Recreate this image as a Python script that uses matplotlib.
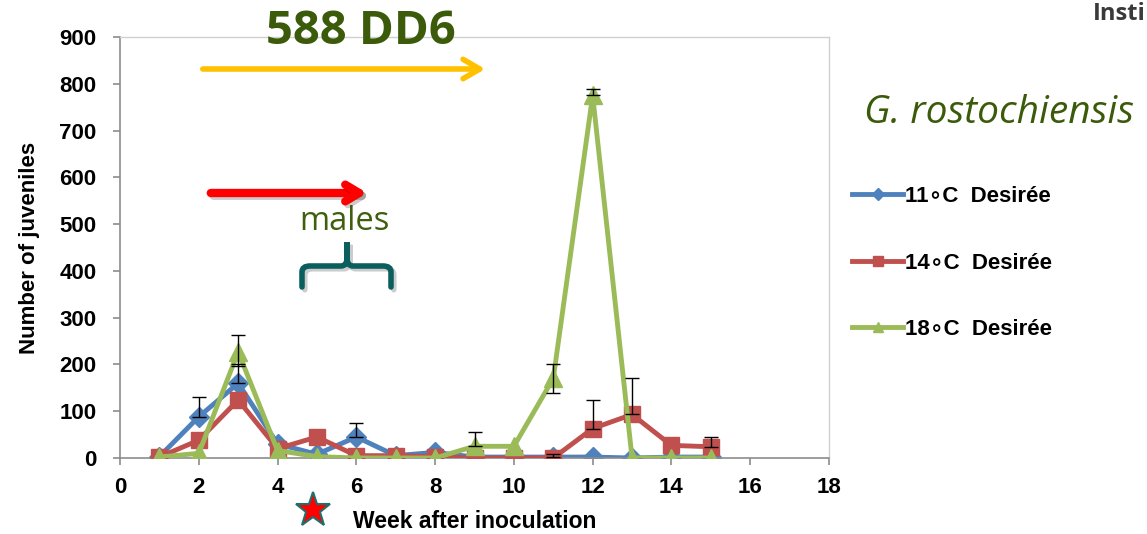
import numpy as np
import matplotlib.pyplot as plt
from matplotlib.patches import FancyArrowPatch, PathPatch
from matplotlib.path import Path
import matplotlib.patheffects as pe

W, H = 1147, 534

# juveniles per week after inoculation, G. rostochiensis on Desiree
weeks = np.arange(1, 16)
juv_11c = [3, 88, 160, 30, 8, 45, 5, 12, 2, 2, 2, 2, 0, 2, 2]
juv_14c = [2, 38, 124, 20, 45, 5, 5, 3, 0, 0, 0, 63, 93, 27, 24]
juv_18c = [2, 10, 227, 16, 3, 0, 0, 0, 25, 25, 170, 775, 0, 0, 0]

err_11c_up = [0, 42, 40, 0, 0, 30, 0, 0, 0, 0, 6, 0, 0, 0, 0]
err_14c_up = [0, 0, 0, 0, 0, 0, 0, 0, 0, 0, 0, 61, 79, 0, 21]
err_18c_up = [0, 0, 37, 0, 0, 0, 0, 0, 31, 0, 30, 13, 0, 0, 0]
err_18c_low = [0, 0, 30, 0, 0, 0, 0, 0, 0, 0, 30, 0, 0, 0, 0]

labels = ["11\u2218C  Desirée", "14\u2218C  Desirée", "18\u2218C  Desirée"]
colors = ["#4F81BD", "#C0504D", "#9BBB59"]
markers = ["D", "s", "^"]
msizes = [10, 11.5, 13]

plt.rcParams['font.family'] = ['Liberation Sans', 'DejaVu Sans']


def px(x, y):
    # pixel position (from top-left) to figure fraction
    return x / W, 1 - y / H


fig = plt.figure(figsize=(W / 100, H / 100), dpi=100)
ax = fig.add_axes([120 / W, (H - 458) / H, (829 - 120) / W, (458 - 37) / H])

series = [juv_11c, juv_14c, juv_18c]
errs = [([0] * 15, err_11c_up), ([0] * 15, err_14c_up), (err_18c_low, err_18c_up)]
for i, (vals, (lo, up)) in enumerate(zip(series, errs)):
    ax.plot(weeks, vals, color=colors[i], lw=3.5, marker=markers[i],
            ms=msizes[i], label=labels[i], zorder=2 + i, solid_joinstyle='round')
    up = np.array(up)
    lo = np.array(lo)
    m = (up > 0) | (lo > 0)
    ax.errorbar(weeks[m], np.array(vals)[m], yerr=[lo[m], up[m]], fmt='none',
                ecolor='black', elinewidth=1, capsize=5, capthick=1, zorder=6)

ax.set_xlim(0, 18)
ax.set_ylim(0, 900)
ax.set_xticks(range(0, 19, 2))
ax.set_yticks(range(0, 901, 100))
for lab in ax.get_xticklabels() + ax.get_yticklabels():
    lab.set_fontweight('bold')
    lab.set_fontsize(16)
ax.tick_params(direction='out', length=5, color='#8c8c8c', width=1.2)
ax.tick_params(axis='y', pad=12)
ax.tick_params(axis='x', pad=9)
for side in ['left', 'bottom']:
    ax.spines[side].set_color('#8c8c8c')
    ax.spines[side].set_linewidth(1.2)
for side in ['top', 'right']:
    ax.spines[side].set_color('#d0d0d0')
    ax.spines[side].set_linewidth(1)

ax.set_ylabel("Number of juveniles", fontsize=16, fontweight='bold', labelpad=14)
fig.text(*px(475, 522), "Week after inoculation", fontsize=16.5, fontweight='bold',
         ha='center', va='center')

leg = fig.legend(loc='upper left', bbox_to_anchor=px(832, 166), frameon=False,
                 fontsize=16, handlelength=2.3, handletextpad=0.1,
                 labelspacing=2.05, markerscale=0.6)
for t in leg.get_texts():
    t.set_fontweight('bold')

# title and annotations
fig.text(*px(361, 32), "588 DD6", fontsize=34, fontweight='bold', color='#3b5a0a',
         family=['Open Sans', 'DejaVu Sans'], ha='center', va='center')
fig.text(*px(999, 113), "G. rostochiensis", fontsize=28, style='italic',
         color='#3b5a0a', family=['Open Sans', 'DejaVu Sans'], ha='center', va='center')
fig.text(*px(1146, 14), "Insti", fontsize=17, fontweight='bold', color='#3a3a3a',
         family=['Open Sans', 'DejaVu Sans'], ha='right', va='center')
fig.text(*px(344, 222), "males", fontsize=23.5, color='#3f5f0f',
         family=['Open Sans', 'DejaVu Sans'], ha='center', va='center')

yellow = FancyArrowPatch(px(200, 69), px(488, 69), transform=fig.transFigure,
                         arrowstyle='->,head_length=12,head_width=7',
                         color='#FFC000', lw=4, capstyle='round', joinstyle='round')
fig.patches.append(yellow)

red = FancyArrowPatch(px(208, 193), px(370, 193), transform=fig.transFigure,
                      arrowstyle='->,head_length=10,head_width=6',
                      color='#FF0000', lw=6, capstyle='round', joinstyle='round')
red.set_path_effects([pe.SimpleLineShadow(offset=(2, -2), alpha=0.2), pe.Normal()])
fig.patches.append(red)

# curly brace under "males"
bx0, bx1, bxc = 302, 391, 347
verts = [px(bx0, 287), px(bx0, 272), px(bx0, 266), px(bx0 + 8, 266),
         px(bxc - 6, 266), px(bxc, 266), px(bxc, 258), px(bxc, 242),
         px(bxc, 258), px(bxc, 266), px(bxc + 6, 266),
         px(bx1 - 8, 266), px(bx1, 266), px(bx1, 272), px(bx1, 287)]
codes = [Path.MOVETO, Path.LINETO, Path.CURVE3, Path.CURVE3,
         Path.LINETO, Path.CURVE3, Path.CURVE3, Path.LINETO,
         Path.LINETO, Path.CURVE3, Path.CURVE3,
         Path.LINETO, Path.CURVE3, Path.CURVE3, Path.LINETO]
brace = PathPatch(Path(verts, codes), transform=fig.transFigure, fill=False,
                  edgecolor='#0b5e5e', lw=4, capstyle='round')
brace.set_path_effects([pe.SimpleLineShadow(offset=(2, -2), alpha=0.2), pe.Normal()])
fig.patches.append(brace)

fig.add_artist(plt.Line2D([313 / W], [1 - 510 / H], marker='*', ms=26,
                          markerfacecolor='#FF0000', markeredgecolor='#1f6f6f',
                          markeredgewidth=1.5, transform=fig.transFigure))

fig.savefig("out.png", dpi=100)
